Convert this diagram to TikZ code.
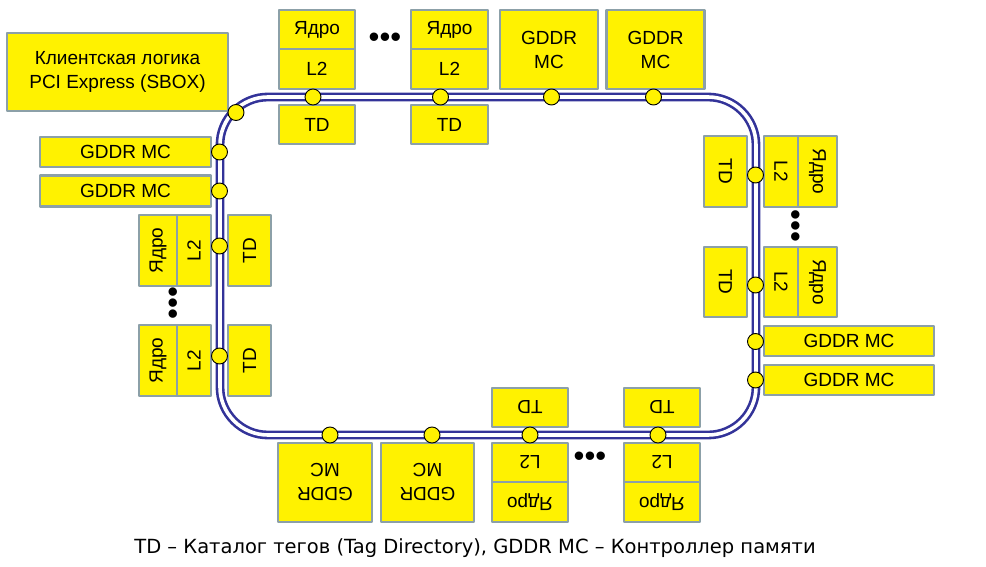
\documentclass[tikz,border=0pt]{standalone}
\usepackage{fontspec}
\setmainfont{Liberation Sans}
\newfontfamily\capfont{DejaVu Sans}
\definecolor{ringblue}{RGB}{51,51,153}
\definecolor{boxgray}{RGB}{140,160,168}

\begin{document}
\begin{tikzpicture}[x=1pt, y=-1pt, line join=round]
\def\fs{\fontsize{19}{24}\selectfont}
\tikzset{
  blk/.style={draw=boxgray, fill=yellow, line width=2.6pt, inner sep=0pt, align=center, font=\fs},
  stop/.style={circle, draw=black, fill=yellow, line width=0.9pt, inner sep=0pt, minimum size=16pt},
  dots/.style={inner sep=0pt, font=\fontsize{31}{31}\selectfont},
  ring/.style={draw=ringblue, line width=2.6pt, double=white, double distance=3.6pt, rounded corners=48pt},
}
\useasboundingbox (0,0) rectangle (986,567);

% ring
\draw[ring] (220,97) rectangle (756,435);

% top side
\node[blk, minimum width=221, minimum height=78] (sbox) at (117.5,72) {Клиентская логика\\PCI Express (SBOX)};
\node[blk, minimum width=76, minimum height=39] (coreT1) at (317,29.5) {Ядро};
\node[blk, minimum width=76, minimum height=40] (l2T1) at (317,69) {L2};
\node[blk, minimum width=76, minimum height=39] (tdT1) at (317,124.5) {TD};
\node[blk, minimum width=77, minimum height=39] (coreT2) at (449.5,29.5) {Ядро};
\node[blk, minimum width=77, minimum height=40] (l2T2) at (449.5,69) {L2};
\node[blk, minimum width=77, minimum height=39] (tdT2) at (449.5,124.5) {TD};
\node[dots] (dotsT) at (385,40) {•••};
\node[blk, minimum width=98, minimum height=79] (mcT1) at (549,49.5) {GDDR\\MC};
\node[blk, minimum width=98, minimum height=79] (mcT2) at (655.5,49.5) {GDDR\\MC};

% left side
\node[blk, minimum width=171, minimum height=30] (mcL1) at (125.5,152) {GDDR MC};
\node[blk, minimum width=171, minimum height=31] (mcL2) at (125.5,191) {GDDR MC};
\node[blk, rotate=90, minimum width=71, minimum height=38] (coreL1) at (158,250.5) {Ядро};
\node[blk, rotate=90, minimum width=71, minimum height=34] (l2L1) at (194,250.5) {L2};
\node[blk, rotate=90, minimum width=71, minimum height=43] (tdL1) at (249.5,250.5) {TD};
\node[blk, rotate=90, minimum width=71, minimum height=38] (coreL2) at (158,360.5) {Ядро};
\node[blk, rotate=90, minimum width=71, minimum height=34] (l2L2) at (194,360.5) {L2};
\node[blk, rotate=90, minimum width=71, minimum height=43] (tdL2) at (249.5,360.5) {TD};
\node[dots, rotate=90] (dotsL) at (176,303) {•••};

% right side
\node[blk, rotate=-90, minimum width=71, minimum height=43] (tdR1) at (725.5,171.5) {TD};
\node[blk, rotate=-90, minimum width=71, minimum height=34] (l2R1) at (781,171.5) {L2};
\node[blk, rotate=-90, minimum width=71, minimum height=39] (coreR1) at (817.5,171.5) {Ядро};
\node[blk, rotate=-90, minimum width=70, minimum height=43] (tdR2) at (725.5,282) {TD};
\node[blk, rotate=-90, minimum width=70, minimum height=34] (l2R2) at (781,282) {L2};
\node[blk, rotate=-90, minimum width=70, minimum height=39] (coreR2) at (817.5,282) {Ядро};
\node[dots, rotate=-90] (dotsR) at (793,226) {•••};
\node[blk, minimum width=170, minimum height=30] (mcR1) at (849,341) {GDDR MC};
\node[blk, minimum width=170, minimum height=30] (mcR2) at (849,380) {GDDR MC};

% bottom side
\node[blk, rotate=180, minimum width=94, minimum height=79] (mcB1) at (325,482.5) {GDDR\\MC};
\node[blk, rotate=180, minimum width=93, minimum height=79] (mcB2) at (427.5,482.5) {GDDR\\MC};
\node[blk, rotate=180, minimum width=76, minimum height=39] (tdB1) at (530,407.5) {TD};
\node[blk, rotate=180, minimum width=76, minimum height=39] (l2B1) at (530,462.5) {L2};
\node[blk, rotate=180, minimum width=76, minimum height=40] (coreB1) at (530,502) {Ядро};
\node[blk, rotate=180, minimum width=76, minimum height=39] (tdB2) at (662,407.5) {TD};
\node[blk, rotate=180, minimum width=76, minimum height=39] (l2B2) at (662,462.5) {L2};
\node[blk, rotate=180, minimum width=76, minimum height=40] (coreB2) at (662,502) {Ядро};
\node[dots] (dotsB) at (590,459) {•••};

% ring stops
\node[stop] (sT1) at (313,97) {};
\node[stop] (sT2) at (440.5,97) {};
\node[stop] (sT3) at (551.5,97) {};
\node[stop] (sT4) at (653.5,97) {};
\node[stop] (sC) at (236,112.5) {};
\node[stop] (sL1) at (219.5,152) {};
\node[stop] (sL2) at (219.5,191) {};
\node[stop] (sL3) at (219.5,246) {};
\node[stop] (sL4) at (219.5,356) {};
\node[stop] (sR1) at (755.5,175) {};
\node[stop] (sR2) at (755.5,285) {};
\node[stop] (sR3) at (755.5,341.5) {};
\node[stop] (sR4) at (755.5,380) {};
\node[stop] (sB1) at (330,435) {};
\node[stop] (sB2) at (432,435) {};
\node[stop] (sB3) at (530,435) {};
\node[stop] (sB4) at (658,435) {};

\node[font=\capfont\fontsize{19.5}{22}\selectfont] (cap) at (475,548) {TD – Каталог тегов (Tag Directory), GDDR MC – Контроллер памяти};
\end{tikzpicture}
\end{document}
